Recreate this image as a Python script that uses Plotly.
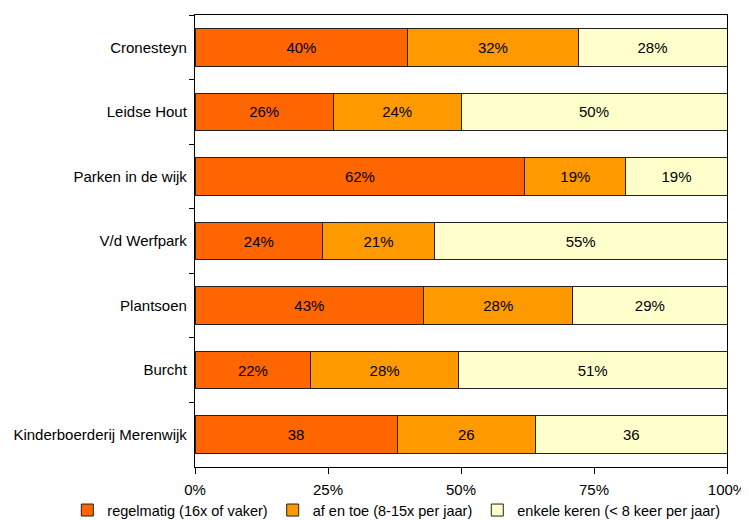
import plotly.graph_objects as go

# data
categories = ["Cronesteyn", "Leidse Hout", "Parken in de wijk", "V/d Werfpark",
              "Plantsoen", "Burcht", "Kinderboerderij Merenwijk"]
regelmatig = [40, 26, 62, 24, 43, 22, 38]
af_en_toe = [32, 24, 19, 21, 28, 28, 26]
enkele = [28, 50, 19, 55, 29, 51, 36]
# last row is labelled without a percent sign in the original
suffix = ["%", "%", "%", "%", "%", "%", ""]

series = [
    ("regelmatig (16x of vaker)", regelmatig, "#FF6600"),
    ("af en toe (8-15x per jaar)", af_en_toe, "#FF9900"),
    ("enkele keren (< 8 keer per jaar)", enkele, "#FFFFCC"),
]

fig = go.Figure()
for name, vals, col in series:
    fig.add_trace(go.Bar(
        y=categories, x=vals, name=name, orientation="h",
        marker=dict(color=col, line=dict(color="#222222", width=1)),
        text=[f"{v}{s}" for v, s in zip(vals, suffix)],
        textposition="inside", insidetextanchor="middle",
        textfont=dict(color="black", size=15),
        width=0.58,
    ))

# the page body has an 8px margin, so the figure is 8px smaller than the window
fig.update_layout(
    barmode="stack", barnorm="percent",
    width=741, height=512,
    margin=dict(l=187, r=22, t=7, b=53, autoexpand=False),
    plot_bgcolor="white", paper_bgcolor="white",
    font=dict(family="Liberation Sans, Arial", size=15, color="black"),
    uniformtext=dict(mode="show", minsize=14),
    legend=dict(orientation="h", x=-0.24, xanchor="left", y=-0.06, yanchor="top",
                font=dict(size=14.5), traceorder="normal", itemwidth=30,
                bgcolor="rgba(0,0,0,0)"),
    showlegend=True,
)
fig.update_xaxes(
    range=[0, 100], tickvals=[0, 25, 50, 75, 100],
    ticktext=["0%", "25%", "50%", "75%", "100%"],
    ticks="outside", ticklen=6, tickcolor="black", ticklabelstandoff=3,
    showgrid=False, zeroline=False, automargin=False,
    showline=True, linecolor="black", mirror=True,
)
fig.update_yaxes(
    autorange="reversed", ticks="outside", tickson="boundaries",
    ticklen=5, tickcolor="black", showgrid=False, automargin=False,
    showline=True, linecolor="black", mirror=True,
    ticksuffix=" ",
)
fig.write_html("out.html")
